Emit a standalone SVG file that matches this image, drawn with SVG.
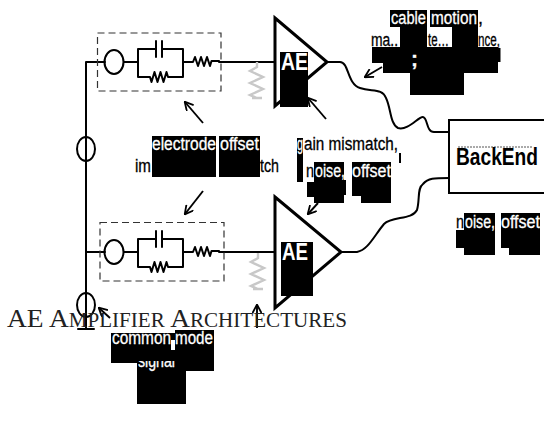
<svg xmlns="http://www.w3.org/2000/svg" xmlns:xlink="http://www.w3.org/1999/xlink" width="544" height="428" viewBox="0 0 544 428">
<style>
.w{fill:none;stroke:#000;stroke-width:2;stroke-linejoin:round;stroke-linecap:round}
.t{fill:none;stroke:#000;stroke-width:3;stroke-linejoin:miter}
.d{fill:none;stroke:#333;stroke-width:1.2;stroke-dasharray:7 4}
.g{fill:none;stroke:#c8c8c8;stroke-width:2.4}
.a{fill:none;stroke:#000;stroke-width:1.9;marker-end:url(#h)}
.b{fill:#000}
text{font-family:"Liberation Sans",Arial,sans-serif;font-size:18px}
.wt{fill:#fff;stroke:#fff;stroke-width:.3}
.bt{fill:#000;stroke:#000;stroke-width:.3}
.ae{font-size:24px;font-weight:bold;fill:#fff}
.lc{font-size:28.500px}
</style>
<defs>
<marker id="h" viewBox="0 0 10 10" refX="9" refY="5" markerWidth="10" markerHeight="10" orient="auto" markerUnits="userSpaceOnUse"><path d="M1 0.5L9.500 5L1 9.500" fill="none" stroke="#000" stroke-width="1.800"/></marker>
<g id="src">
<ellipse cx="114" cy="0" rx="9.500" ry="12" class="w"/>
<path class="w" d="M124 0H138M138 -13H155M163 -13H183V15H168l-1.500 -5 -3 10 -3 -10 -3 10 -3 -10 -3 10 -1.500 -5H138V-13M138 0V15M183 0H193l2 -5 3 9 3 -9 3 9 3 -9 3 9 1.500 -5H219"/>
<path class="w" d="M156 -21V-5M162 -21V-5"/>
</g>
<path id="gr" class="g" d="M0 0V5l-7 4 13 6 -13 6 13 6 -13 6 7 3V36M-5 36H5"/>
</defs>
<g id="connectors">
<path class="w" d="M86 62V329M78 329H94M86 62H105M86 252H105M219 62H274M219 252H274"/>
<ellipse cx="86" cy="149" rx="9" ry="12" class="w"/>
<ellipse cx="86" cy="305" rx="9" ry="12" class="w"/>
<path class="w" d="M328 62H340C349 62 347 84 360 88C372 92 382 88 386 98C391 108 390 124 398 128C408 131 419 116 423 117C428 118 426 132 434 132H449"/>
<path class="w" d="M341 252H357C368 250 374 236 384 224C392 216 412 220 417 210C420 200 417 188 423 184C428 178 434 178 449 178"/>
<path class="a" d="M203 123L185 102"/>
<path class="a" d="M203 191L185 214"/>
<path class="a" d="M326 119L308 98"/>
<path class="a" d="M318 203L308 214"/>
<path class="a" d="M382 67L365 77"/>
<path class="a" d="M110 318L99 308"/>
<path class="a" d="M257 328V305"/>
</g>
<g id="electrode-top"><rect class="d" x="97.500" y="33" width="123.500" height="58"/><use xlink:href="#src" href="#src" y="62"/></g>
<g id="electrode-bottom"><rect class="d" x="100" y="222.500" width="124" height="58.500"/><use xlink:href="#src" href="#src" y="252"/></g>
<g id="load-top"><use xlink:href="#gr" href="#gr" x="257" y="62"/></g>
<g id="load-bottom"><use xlink:href="#gr" href="#gr" x="258" y="253"/></g>
<g id="amp-top"><path class="t" d="M275 18L327 62L275 106Z" fill="none"/><rect class="b" x="280" y="52" width="28" height="55"/><text class="ae" x="281" y="70" textLength="27" lengthAdjust="spacingAndGlyphs">AE</text></g>
<g id="amp-bottom"><path class="t" d="M275 197L341 252L275 308Z" fill="none"/><rect class="b" x="281" y="242" width="32" height="54"/><text class="ae" x="282" y="260" textLength="26" lengthAdjust="spacingAndGlyphs">AE</text></g>
<g id="backend"><rect x="449" y="120" width="97" height="73" fill="#fff" stroke="#000" stroke-width="2"/><path d="M458 147H533" stroke="#555" stroke-width="1" stroke-dasharray="2 1"/><text x="456" y="165" font-weight="bold" style="font-size:24px" textLength="82" lengthAdjust="spacingAndGlyphs">BackEnd</text></g>
<g id="label-electrode">
<rect class="b" x="152" y="136" width="64" height="41"/><rect class="b" x="219" y="136" width="41" height="41"/>
<text class="wt" x="152" y="150" textLength="64" lengthAdjust="spacingAndGlyphs">electrode</text><text class="wt" x="220" y="150" textLength="39" lengthAdjust="spacingAndGlyphs">offset</text>
<text class="bt" x="135" y="172" textLength="16" lengthAdjust="spacingAndGlyphs">im</text><text class="bt" x="260" y="172" textLength="19" lengthAdjust="spacingAndGlyphs">tch</text>
</g>
<g id="label-gain">
<rect class="b" x="297" y="138" width="6" height="44"/><rect class="b" x="307" y="182" width="7" height="15"/>
<rect class="b" x="314" y="162" width="30" height="41"/><rect class="b" x="344" y="180" width="2" height="15"/><rect class="b" x="352" y="162" width="39" height="34"/><rect class="b" x="361" y="190" width="30" height="13"/><rect class="b" x="399" y="153" width="2" height="10"/>
<text class="wt" x="297" y="150" textLength="6" lengthAdjust="spacingAndGlyphs">g</text><text class="bt" x="304" y="150" textLength="94" lengthAdjust="spacingAndGlyphs">ain mismatch,</text>
<text class="bt" x="306" y="177" textLength="8" lengthAdjust="spacingAndGlyphs">n</text><text class="wt" x="315" y="177" textLength="30" lengthAdjust="spacingAndGlyphs">oise,</text><text class="wt" x="352" y="177" textLength="39" lengthAdjust="spacingAndGlyphs">offset</text>
</g>
<g id="label-cable">
<rect class="b" x="390" y="10" width="37" height="17"/><rect class="b" x="430" y="10" width="48" height="17"/>
<rect class="b" x="400" y="27" width="27" height="20"/><rect class="b" x="452" y="27" width="26" height="20"/><rect class="b" x="372" y="47" width="126" height="16"/><rect class="b" x="383" y="60" width="115" height="13"/><rect class="b" x="410" y="73" width="54" height="22"/><rect class="b" x="498" y="48" width="2.500" height="14"/>
<text class="wt" x="391" y="24" textLength="35" lengthAdjust="spacingAndGlyphs">cable</text><text class="wt" x="431" y="24" textLength="46" lengthAdjust="spacingAndGlyphs">motion</text><text class="bt" x="478" y="24">,</text>
<text class="bt" x="371" y="46" textLength="27" lengthAdjust="spacingAndGlyphs">ma..</text><text class="bt" x="428" y="46" textLength="21" lengthAdjust="spacingAndGlyphs">te…</text><text class="bt" x="478" y="46" textLength="22" lengthAdjust="spacingAndGlyphs">nce,</text>
<text class="wt" x="411" y="66" font-weight="bold" style="font-size:21px">;</text>
</g>
<g id="label-backend">
<rect class="b" x="464" y="213" width="31" height="42"/><rect class="b" x="456" y="230" width="8" height="18"/><rect class="b" x="501" y="213" width="39" height="35"/><rect class="b" x="509" y="240" width="31" height="15"/>
<text class="bt" x="456" y="228" textLength="8" lengthAdjust="spacingAndGlyphs">n</text><text class="wt" x="465" y="228" textLength="30" lengthAdjust="spacingAndGlyphs">oise,</text><text class="wt" x="501" y="228" textLength="39" lengthAdjust="spacingAndGlyphs">offset</text>
</g>
<g id="title"><text x="7" y="327" textLength="340" lengthAdjust="spacingAndGlyphs" style="font-family:'Liberation Serif','Times New Roman',serif;font-size:26px;font-variant:small-caps" fill="#222">AE A<tspan class="lc">mplifier</tspan> A<tspan class="lc">rchitectures</tspan></text></g>
<g id="label-common">
<rect class="b" x="111" y="333" width="64" height="30"/><rect class="b" x="175" y="330" width="39" height="41"/><rect class="b" x="137" y="363" width="49" height="41"/>
<rect x="171" y="340" width="4" height="12" fill="#fff"/>
<text class="wt" x="112" y="344" textLength="59" lengthAdjust="spacingAndGlyphs">common</text><text class="wt" x="175" y="344" textLength="38" lengthAdjust="spacingAndGlyphs">mode</text>
<text class="wt" x="138" y="367" textLength="37" lengthAdjust="spacingAndGlyphs">signal</text><rect class="b" x="137" y="350" width="38" height="11"/>
</g>
</svg>
